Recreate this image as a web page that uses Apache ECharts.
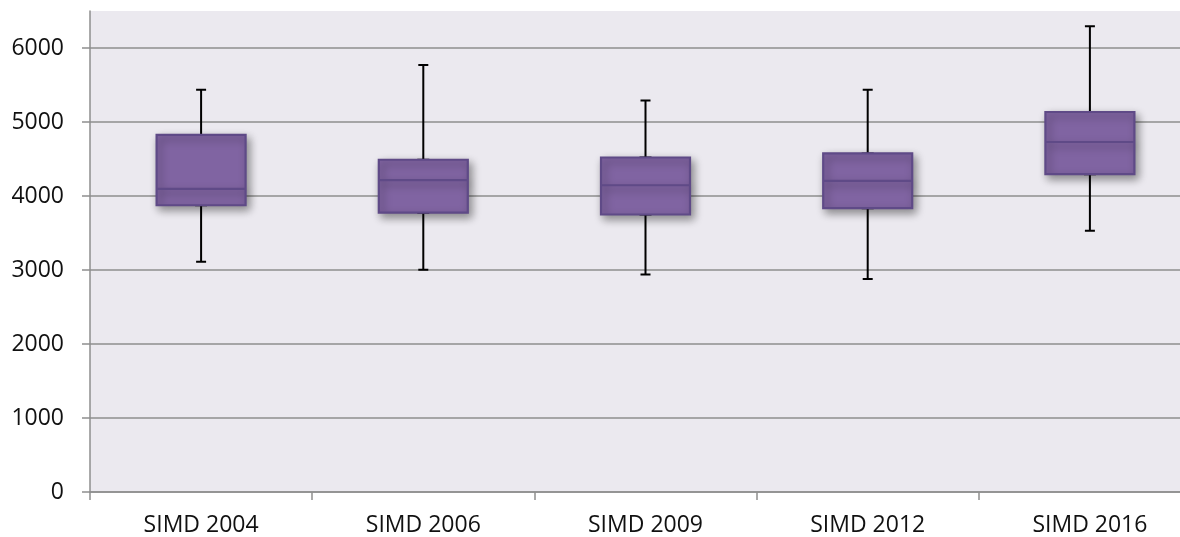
<!DOCTYPE html>
<html>
<head>
<meta charset="utf-8">
<script src="https://cdn.jsdelivr.net/npm/echarts@6/dist/echarts.min.js"></script>
<style>
html,body{margin:0;padding:0;background:#fff;}
#chart{width:1180px;height:537px;}
</style>
</head>
<body>
<div id="chart"></div>
<script>
var categories = ['SIMD 2004', 'SIMD 2006', 'SIMD 2009', 'SIMD 2012', 'SIMD 2016'];
var minVals    = [3110, 3005, 2940, 2880, 3530];
var q1Vals     = [3875, 3775, 3750, 3835, 4295];
var medianVals = [4095, 4215, 4145, 4205, 4730];
var q3Vals     = [4825, 4490, 4520, 4575, 5135];
var maxVals    = [5435, 5770, 5290, 5435, 6295];
var yTicks     = [0, 1000, 2000, 3000, 4000, 5000, 6000];

var whiskerData = categories.map(function (c, i) {
  return [minVals[i], q1Vals[i], medianVals[i], q3Vals[i], maxVals[i]];
});
var boxData = categories.map(function (c, i) {
  return [q1Vals[i], q1Vals[i], medianVals[i], q3Vals[i], q3Vals[i]];
});

var FONT = '"Open Sans", "Noto Sans", sans-serif';
var gridCol = '#8e8e8e';
var splitColors = yTicks.map(function () { return gridCol; }).concat(['rgba(0,0,0,0)']);

var chart = echarts.init(document.getElementById('chart'), null, {renderer: 'canvas'});
chart.setOption({
  animation: false,
  backgroundColor: '#ffffff',
  grid: {
    left: 90, top: 11, width: 1111, bottom: 45,
    outerBoundsMode: 'none', containLabel: false,
    show: true, backgroundColor: '#ebe9ef', borderWidth: 0
  },
  xAxis: [{
    type: 'category',
    data: categories,
    boundaryGap: true,
    axisLine: {show: true, lineStyle: {color: gridCol, width: 1.5}},
    axisTick: {show: true, length: 8, lineStyle: {color: gridCol, width: 1.5}},
    axisLabel: {color: '#111', fontFamily: FONT, fontSize: 23, margin: 22},
    splitLine: {show: false}
  }, {
    type: 'category',
    data: categories,
    show: false,
    boundaryGap: true
  }],
  yAxis: {
    type: 'value',
    min: 0, max: 6500, interval: 1000,
    axisLine: {show: true, lineStyle: {color: gridCol, width: 1.5}},
    axisTick: {show: true, length: 8, lineStyle: {color: gridCol, width: 1.5}},
    axisLabel: {color: '#111', fontFamily: FONT, fontSize: 23, margin: 26, showMaxLabel: false,
      formatter: function (v) { return yTicks.indexOf(v) >= 0 ? String(v) : ''; }},
    splitLine: {show: true, lineStyle: {color: splitColors, width: 1.5}}
  },
  series: [{
    type: 'boxplot',
    xAxisIndex: 0,
    data: whiskerData,
    boxWidth: [10, 10],
    itemStyle: {color: 'rgba(0,0,0,0)', borderColor: '#000000', borderWidth: 2},
    emphasis: {disabled: true},
    z: 2
  }, {
    type: 'boxplot',
    xAxisIndex: 1,
    data: boxData,
    boxWidth: [89, 89],
    itemStyle: {
      color: '#8064a2', borderColor: '#5f4a87', borderWidth: 2.2,
      shadowColor: 'rgba(0,0,0,0.4)', shadowBlur: 8, shadowOffsetX: 3, shadowOffsetY: 4
    },
    emphasis: {disabled: true},
    z: 3
  }]
});
</script>
</body>
</html>
